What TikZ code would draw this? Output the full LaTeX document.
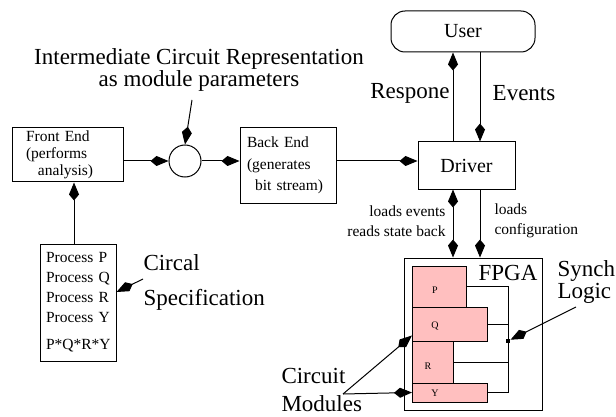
\documentclass[tikz,border=0pt]{standalone}
\usepackage{fontspec}
\setmainfont{Liberation Serif}
\usetikzlibrary{arrows.meta,positioning}
\definecolor{modpink}{RGB}{255,191,191}
\newcommand{\labelfont}[1]{\fontsize{23}{#1}\selectfont}
\newcommand{\boxfont}[1]{\fontsize{15.5}{#1}\selectfont}

\begin{document}
\begin{tikzpicture}[x=1pt, y=-1pt, line width=1pt,
		box/.style={draw, rectangle, inner sep=0pt},
		module/.style={draw, fill=modpink, inner sep=0pt, anchor=west},
		modtext/.style={font=\fontsize{10}{12}\selectfont, inner sep=0pt},
		note/.style={inner sep=0pt},
		feed/.style={-{Kite[length=18pt,width=10pt,inset=6pt]}},
		feedboth/.style={{Kite[length=18pt,width=10pt,inset=6pt]}-{Kite[length=18pt,width=10pt,inset=6pt]}}]
	\useasboundingbox (0,0) rectangle (616,417);

	% compiler side
	\node[box, minimum width=111pt, minimum height=54pt, text width=83pt, align=left, font=\boxfont{17}] (front) at (67.5,155)
		{Front End\\(performs\\\hspace*{12pt}analysis)};
	\node[draw, circle, minimum size=32pt, inner sep=0pt] (circ) at (185,161) {};
	\node[box, minimum width=96pt, minimum height=75pt, text width=82pt, align=left, font=\boxfont{21.5}] (back) at (288,165.5)
		{Back End\\(generates\\\hspace*{8pt}bit stream)};
	\node[box, minimum width=76pt, minimum height=117pt, text width=64pt, align=left, font=\boxfont{20}] (proc) at (78,302.5)
		{Process P\\Process Q\\Process R\\Process Y\\[7pt]P*Q*R*Y};

	% run-time side
	\node[box, minimum width=97pt, minimum height=47pt, font=\fontsize{20}{24}\selectfont] (drv) at (466.5,165.5) {Driver};
	\node[box, rounded corners=14pt, minimum width=144pt, minimum height=41pt, font=\fontsize{20}{24}\selectfont] (usr) at (463,31.5) {User};
	\node[box, minimum width=138pt, minimum height=152pt] (fpga) at (473,334) {};
	\node[note, font=\labelfont{24}] (fpgatext) at (508,273) {FPGA};

	% modules on the FPGA
	\node[module, minimum width=54pt, minimum height=41pt] (mp) at (412,286.5) {};
	\node[module, minimum width=75pt, minimum height=34pt] (mq) at (412,324) {};
	\node[module, minimum width=41pt, minimum height=42pt] (mr) at (412,362) {};
	\node[module, minimum width=75pt, minimum height=19pt] (my) at (412,392.5) {};
	\node[modtext] (pt) at (435,290) {P};
	\node[modtext] (qt) at (435,326) {Q};
	\node[modtext] (rt) at (428,366) {R};
	\node[modtext] (yt) at (435,393) {Y};

	% synchronisation bus
	\coordinate (bus) at (508,0);
	\draw (mp.east) -- (mp.east -| bus) -- (my.east -| bus) -- (my.east);
	\draw (mq.east) -- (mq.east -| bus);
	\draw (mr.east) -- (mr.east -| bus);
	\node[fill, rectangle, minimum size=4pt, inner sep=0pt] (sync) at (508,341) {};

	% labels
	\node[note, align=center, font=\labelfont{22}] (irep) at (199,70)
		{Intermediate Circuit Representation\\as module parameters};
	\node[note, font=\labelfont{24}] (resp) at (410,93) {Respone};
	\node[note, font=\labelfont{24}] (evts) at (524,93) {Events};
	\node[note, anchor=east, align=right, font=\boxfont{20}] (ldev) at (446,221) {loads events\\reads state back};
	\node[note, anchor=west, align=left, font=\boxfont{20}] (ldcf) at (494,221) {loads\\configuration};
	\node[note, anchor=west, align=left, font=\labelfont{20}] (synt) at (557,282) {Synch\\Logic};
	\node[note, anchor=west, align=left, font=\labelfont{28}] (cmod) at (281,390) {Circuit\\Modules};
	\node[note, anchor=west, align=left, font=\labelfont{35}] (circ-spec) at (143,282.5) {Circal\\Specification};

	% free ends of the pointers
	\coordinate (irepend) at (192,100);
	\coordinate (specend) at (143,279);
	\coordinate (syncend) at (576,307);
	\coordinate (cmodend) at (343,394);
	\coordinate (rsp) at ([xshift=-13.5pt]drv.north);
	\coordinate (evt) at ([xshift=13.5pt]drv.north);
	\coordinate (feedin) at (74,0);

	% connections
	\path[feed]
		(circ.west -| front.east) edge (circ.west)
		(circ.east) edge (circ.east -| back.west)
		(circ.east -| back.east) edge (circ.east -| drv.west)
		(proc.north -| feedin) edge (front.south -| feedin)
		(irepend) edge (circ.north)
		(specend) edge ([yshift=10.5pt]proc.east)
		(rsp) edge (rsp |- usr.south)
		(evt |- usr.south) edge (evt)
		(evt |- drv.south) edge (evt |- fpga.north)
		(syncend) edge (sync)
		(cmodend) edge ([yshift=6pt]mq.south west)
		(cmodend) edge (my.west);
	\draw[feedboth] (rsp |- drv.south) -- (rsp |- fpga.north);
\end{tikzpicture}
\end{document}
